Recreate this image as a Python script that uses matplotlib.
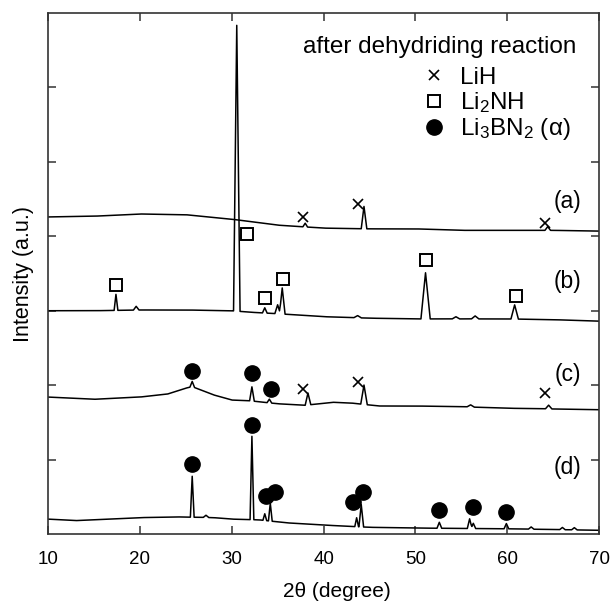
import numpy as np
import matplotlib
matplotlib.use("Agg")
import matplotlib.pyplot as plt
from matplotlib.lines import Line2D

plt.rcParams["font.family"] = ["Liberation Sans", "DejaVu Sans"]
plt.rcParams["mathtext.fontset"] = "custom"
plt.rcParams["mathtext.rm"] = "Liberation Sans"
plt.rcParams["mathtext.it"] = "Liberation Sans"

# ---------- data ----------
# baselines (2theta, offset intensity) for each pattern
a_base_x = [10, 15, 20, 25, 30, 35, 40, 45, 50, 55, 60, 65, 70]
a_base_y = [4.26, 4.27, 4.30, 4.29, 4.23, 4.15, 4.11, 4.10, 4.10, 4.08, 4.08, 4.08, 4.07]
a_peak_x = [38.0, 44.4, 64.4]
a_peak_h = [0.05, 0.30, 0.05]
a_peak_w = [0.25, 0.3, 0.3]

b_base_x = [10, 15, 20, 25, 30, 32, 35, 40, 45, 50, 55, 60, 65, 70]
b_base_y = [3.00, 3.00, 3.01, 3.01, 3.00, 2.98, 2.96, 2.92, 2.90, 2.89, 2.89, 2.89, 2.88, 2.86]
b_peak_x = [17.4, 19.6, 30.55, 33.6, 35.0, 35.5, 43.7, 51.1, 54.4, 56.5, 60.8]
b_peak_h = [0.215, 0.05, 3.84, 0.07, 0.12, 0.35, 0.03, 0.62, 0.03, 0.04, 0.19]
b_peak_w = [0.2, 0.3, 0.35, 0.25, 0.3, 0.3, 0.4, 0.5, 0.4, 0.4, 0.4]

c_base_x = [10, 15, 20, 23, 25, 25.7, 28, 30, 32, 35, 38, 41, 43, 46, 50, 55, 60, 65, 70]
c_base_y = [1.84, 1.81, 1.84, 1.88, 1.96, 1.98, 1.87, 1.80, 1.79, 1.75, 1.73, 1.77, 1.76,
            1.72, 1.72, 1.71, 1.69, 1.68, 1.67]
c_peak_x = [25.7, 32.2, 34.1, 38.3, 44.4, 56.0, 64.5]
c_peak_h = [0.07, 0.19, 0.05, 0.16, 0.26, 0.03, 0.05]
c_peak_w = [0.25, 0.25, 0.25, 0.3, 0.35, 0.4, 0.35]

d_base_x = [10, 13, 20, 24, 28, 30, 33, 36, 40, 45, 50, 60, 70]
d_base_y = [0.20, 0.18, 0.22, 0.23, 0.22, 0.20, 0.19, 0.15, 0.12, 0.09, 0.08, 0.07, 0.05]
d_peak_x = [25.7, 27.2, 32.2, 33.6, 34.2, 43.6, 44.1, 52.6, 55.9, 56.3, 59.9, 62.6, 66.0, 67.3]
d_peak_h = [0.55, 0.03, 1.12, 0.09, 0.24, 0.12, 0.30, 0.08, 0.13, 0.07, 0.07, 0.03, 0.03, 0.03]
d_peak_w = [0.2, 0.3, 0.2, 0.2, 0.2, 0.2, 0.25, 0.25, 0.25, 0.25, 0.25, 0.3, 0.3, 0.3]

# phase markers
lih_x = [37.8, 43.8, 64.1, 37.8, 43.8, 64.1]
lih_y = [4.26, 4.43, 4.18, 1.95, 2.04, 1.89]
li2nh_x = [17.4, 31.7, 33.6, 35.6, 51.1, 60.9]
li2nh_y = [3.34, 4.03, 3.17, 3.43, 3.68, 3.20]
li3bn2_x = [25.7, 32.2, 34.3, 25.7, 32.2, 33.7, 34.7, 43.2, 44.3, 52.6, 56.3, 59.9]
li3bn2_y = [2.19, 2.16, 1.95, 0.94, 1.46, 0.51, 0.56, 0.43, 0.56, 0.32, 0.36, 0.30]

pattern_labels = ["(a)", "(b)", "(c)", "(d)"]
label_y = [4.47, 3.39, 2.14, 0.90]


def build_pattern(bx, by, px, ph, pw):
    grid = np.linspace(10, 70, 6001)
    y = np.interp(grid, bx, by)
    for x0, h, w in zip(px, ph, pw):
        y += np.interp(grid, [x0 - w, x0, x0 + w], [0, h, 0], left=0, right=0)
    return grid, y


fig = plt.figure(figsize=(6.12, 6.06), dpi=100)
ax = fig.add_axes([0.0784, 0.1188, 0.9006, 0.8597])

patterns = [
    (a_base_x, a_base_y, a_peak_x, a_peak_h, a_peak_w),
    (b_base_x, b_base_y, b_peak_x, b_peak_h, b_peak_w),
    (c_base_x, c_base_y, c_peak_x, c_peak_h, c_peak_w),
    (d_base_x, d_base_y, d_peak_x, d_peak_h, d_peak_w),
]
for p in patterns:
    gx, gy = build_pattern(*p)
    ax.plot(gx, gy, color="black", lw=1.1)

ax.plot(lih_x, lih_y, ls="none", marker="x", ms=7.5, mew=1.2, color="black")
ax.plot(li2nh_x, li2nh_y, ls="none", marker="s", ms=9, mew=1.4, mfc="white", mec="black")
ax.plot(li3bn2_x, li3bn2_y, ls="none", marker="o", ms=11, color="black")

for lab, ly in zip(pattern_labels, label_y):
    ax.text(66.6, ly, lab, fontsize=16.5, ha="center", va="center")

ax.text(37.8, 6.55, "after dehydriding reaction", fontsize=17.5, ha="left", va="center")
handles = [
    Line2D([], [], ls="none", marker="x", ms=7.5, mew=1.2, color="black"),
    Line2D([], [], ls="none", marker="s", ms=9, mew=1.4, mfc="white", mec="black"),
    Line2D([], [], ls="none", marker="o", ms=11, color="black"),
]
ax.legend(handles, ["LiH", r"Li$_2$NH", r"Li$_3$BN$_2$ (α)"], loc="upper left",
          bbox_to_anchor=(0.66, 0.92), frameon=False, fontsize=17.5,
          handlelength=0.8, handletextpad=0.7, labelspacing=0.05, borderpad=0)

ax.set_xlim(10, 70)
ax.set_ylim(0, 7)
ax.set_xticks(range(10, 71, 10))
ax.set_yticks(range(1, 7))
ax.set_yticklabels([])
ax.tick_params(direction="in", top=True, right=True, length=6, width=1.1,
               labelsize=13.5, colors="#333333", labelcolor="black", pad=12)
for s in ax.spines.values():
    s.set_linewidth(1.2)
    s.set_color("#333333")

ax.set_xlabel("2θ (degree)", fontsize=15)
ax.xaxis.set_label_coords(0.525, -0.092)
ax.set_ylabel("Intensity (a.u.)", fontsize=15.5, labelpad=-2)

fig.savefig("out.png", dpi=100)
